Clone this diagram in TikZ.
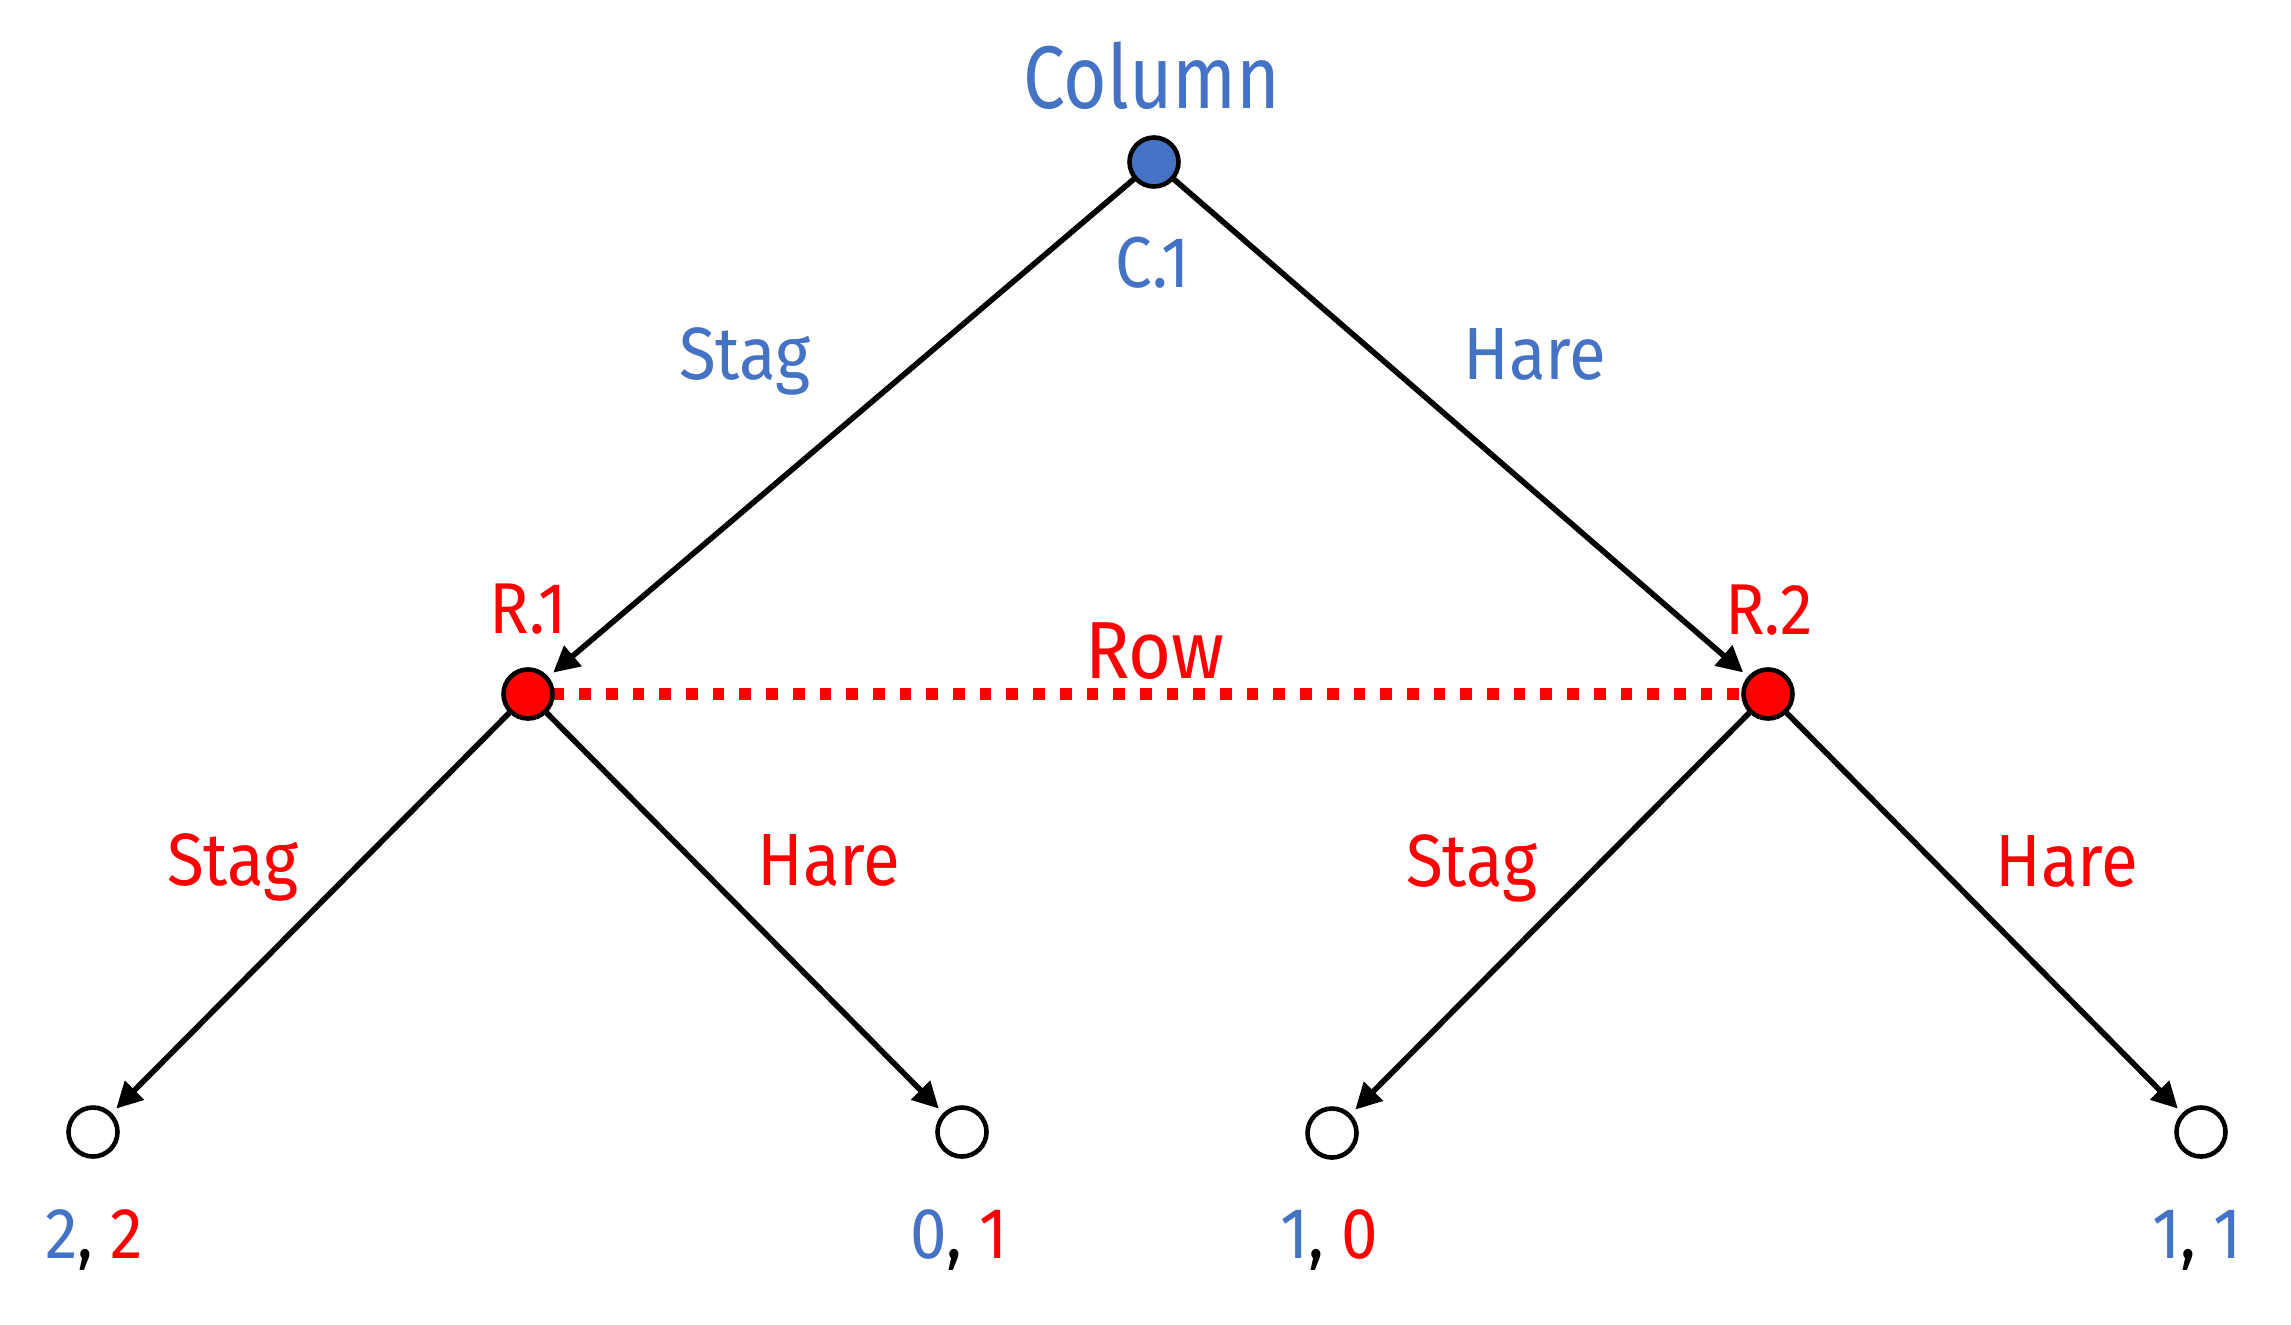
\documentclass[tikz,border=0pt]{standalone}
\usepackage{fontspec}
\setmainfont{Fira Sans}[FakeStretch=0.91]
\newfontfamily\colfont{Fira Sans}[FakeStretch=0.84]
\usetikzlibrary{arrows.meta,backgrounds}
\definecolor{cblue}{HTML}{4472C4}
\definecolor{cred}{HTML}{FF0000}
\begin{document}
\begin{tikzpicture}[x=0.5pt,y=-0.5pt,
  dec/.style={circle,draw=black,line width=2.3pt,minimum size=24.5pt,inner sep=0pt,outer sep=0pt},
  leaf/.style={dec,fill=white},
  move/.style={line width=2.8pt,-{Triangle[length=13pt,width=13pt]},shorten >=4.25pt},
  info/.style={cred,line width=6.2pt,dash pattern=on 5.85pt off 7.5pt},
  lbl/.style={anchor=base,inner sep=0pt,font=\fontsize{36}{40}\selectfont},
  edgelbl/.style={lbl,font=\fontsize{37}{40}\selectfont},
]
\useasboundingbox (0,0) rectangle (2291,1324);
% decision nodes
\node[dec,fill=cblue] (root) at (1154,162) {};
\node[dec,fill=cred] (r1) at (528,694) {};
\node[dec,fill=cred] (r2) at (1768,694) {};
\node[leaf] (l1) at (93,1132) {};
\node[leaf] (l2) at (962,1132) {};
\node[leaf] (l3) at (1332,1133) {};
\node[leaf] (l4) at (2201,1132) {};
% connectors
\begin{scope}[on background layer]
\draw[move] (root) -- (r1);
\draw[move] (root) -- (r2);
\draw[move] (r1) -- (l1);
\draw[move] (r1) -- (l2);
\draw[move] (r2) -- (l3);
\draw[move] (r2) -- (l4);
\draw[info] (r1) -- (r2);
\end{scope}
% player and node labels
\node[lbl,text=cblue,font=\colfont\fontsize{44.5}{48}\selectfont] (tcol) at (1152,108) {Column};
\node[lbl,text=cblue] (tc1) at (1153,287) {C.1};
\node[lbl,text=cred] (tr1) at (528,633) {R.1};
\node[lbl,text=cred] (tr2) at (1769,634) {R.2};
\node[lbl,text=cred,font=\fontsize{40.5}{44}\selectfont] (trow) at (1155,678) {Row};
% action labels
\node[edgelbl,text=cblue] (a1) at (745,379) {Stag};
\node[edgelbl,text=cblue] (a2) at (1535,379) {Hare};
\node[edgelbl,text=cred] (a3) at (233,885) {Stag};
\node[edgelbl,text=cred] (a4) at (829,885) {Hare};
\node[edgelbl,text=cred] (a5) at (1472,886) {Stag};
\node[edgelbl,text=cred] (a6) at (2067,886) {Hare};
% payoffs
\node[lbl] (p1) at (94,1258) {\textcolor{cblue}{2}, \textcolor{cred}{2}};
\node[lbl] (p2) at (959,1258) {\textcolor{cblue}{0}, \textcolor{cred}{1}};
\node[lbl] (p3) at (1329,1258) {\textcolor{cblue}{1}, \textcolor{cred}{0}};
\node[lbl] (p4) at (2197,1258) {\textcolor{cblue}{1}, \textcolor{cblue}{1}};
\end{tikzpicture}
\end{document}
